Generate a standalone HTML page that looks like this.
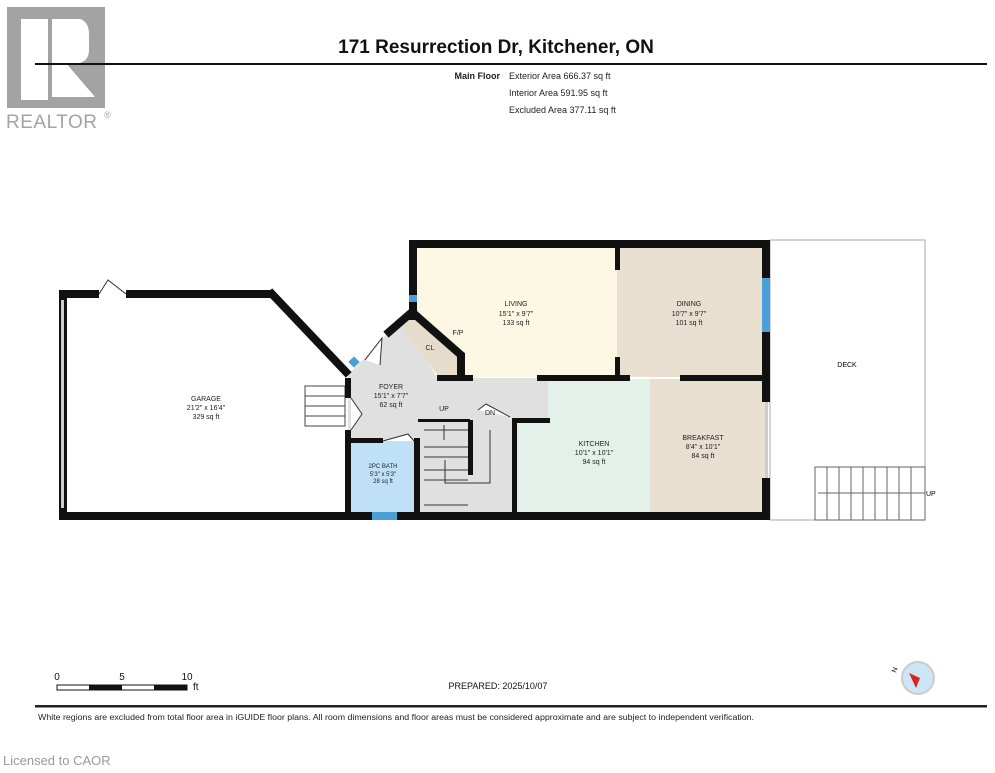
<!DOCTYPE html>
<html><head><meta charset="utf-8"><style>
body{margin:0;background:#fff;width:995px;height:768px;overflow:hidden;font-family:"Liberation Sans",sans-serif}
</style></head><body>
<svg width="995" height="768" viewBox="0 0 995 768" xmlns="http://www.w3.org/2000/svg" font-family="Liberation Sans, sans-serif">
<!-- logo -->
<rect x="7" y="7" width="98" height="101" fill="#a3a3a3"/>
<rect x="21" y="19" width="27" height="81" fill="#fff"/>
<path d="M52 19 H80 Q89 22 89 34 V50 Q89 60 80 63 H66 L95 97 H52 Z" fill="#fff"/>
<text x="6" y="128" font-size="19" fill="#a3a3a3" letter-spacing="0.5">REALTOR</text>
<text x="104" y="118" font-size="9" fill="#a3a3a3">®</text>
<!-- header -->
<text x="496" y="53" font-size="19" font-weight="bold" text-anchor="middle" fill="#111">171 Resurrection Dr, Kitchener, ON</text>
<rect x="35" y="63" width="952" height="2" fill="#111"/>
<text x="500" y="79" font-size="9" font-weight="bold" text-anchor="end" fill="#222">Main Floor</text>
<g font-size="9" fill="#222"><text x="509" y="79">Exterior Area 666.37 sq ft</text><text x="509" y="96">Interior Area 591.95 sq ft</text><text x="509" y="113">Excluded Area 377.11 sq ft</text></g>
<!-- deck -->
<rect x="770" y="240" width="155" height="280" fill="#fff" stroke="#aaa" stroke-width="1"/>
<g stroke="#666" stroke-width="1" fill="none"><rect x="815" y="467" width="110" height="53"/>
<path d="M827 467V520M839 467V520M851 467V520M863 467V520M875 467V520M887 467V520M899 467V520M911 467V520M818 493H925"/></g>
<text x="847" y="367" font-size="7" text-anchor="middle">DECK</text><text x="926" y="496" font-size="7">UP</text>
<!-- room fills -->
<polygon points="63,294 272,294 348,375 345,516 63,516" fill="#fff"/>
<rect x="413" y="244" width="204" height="133" fill="#fdf8e4"/>
<rect x="617" y="244" width="149" height="133" fill="#e8dfd0"/>
<rect x="517" y="379" width="133" height="135" fill="#e3f1ea"/>
<rect x="650" y="379" width="115" height="135" fill="#e8dfd0"/>
<polygon points="348,375 386,335 405,318 437,378 548,378 548,418 512,418 512,514 420,514 420,440 348,440" fill="#e0e0e0"/>
<polygon points="396,320 415,308 464,355 464,378 440,378" fill="#e6dccb"/>
<rect x="348" y="440" width="70" height="74" fill="#bfe0f7"/>
<!-- stairs -->
<g stroke="#333" stroke-width="1" fill="none"><path d="M424 420H468M424 430H468M424 447H468M424 457H468M424 470H468M424 480H468M424 505H468M444 425V440M445 460V483H490V430"/></g>
<rect x="468" y="420" width="5" height="55" fill="#111"/>
<rect x="418" y="419" width="52" height="3" fill="#111"/>
<!-- exterior stairs garage -->
<g stroke="#444" fill="#fff"><rect x="305" y="386" width="40" height="40"/><path d="M305 396H345M305 406H345M305 416H345" /></g>
<!-- walls -->
<g fill="#111">
<rect x="59" y="290" width="8" height="230"/>
<rect x="59" y="290" width="40" height="8"/><rect x="126" y="290" width="148" height="8"/>
<rect x="59" y="512" width="313" height="8"/><rect x="397" y="512" width="373" height="8"/>
<rect x="409" y="240" width="361" height="8"/>
<rect x="409" y="240" width="8" height="55"/><rect x="409" y="302" width="8" height="18"/>
<rect x="762" y="240" width="8" height="38"/><rect x="762" y="332" width="8" height="70"/><rect x="762" y="478" width="8" height="42"/>
<rect x="615" y="248" width="5" height="22"/><rect x="615" y="357" width="5" height="22"/>
<rect x="437" y="375" width="36" height="6"/><rect x="537" y="375" width="93" height="6"/><rect x="680" y="375" width="90" height="6"/>
<rect x="512" y="418" width="5" height="100"/><rect x="512" y="418" width="38" height="5"/>
<rect x="345" y="378" width="6" height="20"/><rect x="345" y="430" width="6" height="90"/>
<rect x="345" y="438" width="38" height="5"/><rect x="414" y="438" width="6" height="80"/>
</g>
<g stroke="#111" stroke-width="8" fill="none" stroke-linecap="square">
<path d="M272 294 L346 372"/><path d="M389 332 L412 312 L461 355 L461 376"/>
</g>
<!-- windows -->
<rect x="409" y="295" width="8" height="7" fill="#4a9fd8"/><rect x="762" y="278" width="8" height="54" fill="#4a9fd8"/>
<rect x="372" y="512" width="25" height="8" fill="#4a9fd8"/>
<rect x="350" y="358" width="8" height="8" fill="#4a9fd8" transform="rotate(-45 354 362)"/>
<rect x="61" y="300" width="3" height="208" fill="#ccc"/><rect x="765" y="402" width="3" height="76" fill="#ccc"/>
<!-- doors -->
<g stroke="#333" stroke-width="1" fill="#fff"><path d="M99 294 L108 280 L126 294"/><path d="M351 398 L362 414 L351 430"/><path d="M383 441 L408 434 L414 441"/><path d="M478 410 L486 404 L510 417"/><path d="M365 360 L382 338 L380 365"/></g>
<!-- labels -->
<g font-size="7" text-anchor="middle" fill="#222">
<text x="516" y="306">LIVING</text><text x="516" y="316">15'1" x 9'7"</text><text x="516" y="325">133 sq ft</text>
<text x="689" y="306">DINING</text><text x="689" y="316">10'7" x 9'7"</text><text x="689" y="325">101 sq ft</text>
<text x="206" y="401">GARAGE</text><text x="206" y="410">21'2" x 16'4"</text><text x="206" y="419">329 sq ft</text>
<text x="391" y="389">FOYER</text><text x="391" y="398">15'1" x 7'7"</text><text x="391" y="407">62 sq ft</text>
<text x="594" y="446">KITCHEN</text><text x="594" y="455">10'1" x 10'1"</text><text x="594" y="464">94 sq ft</text>
<text x="703" y="440">BREAKFAST</text><text x="703" y="449">8'4" x 10'1"</text><text x="703" y="458">84 sq ft</text>
<text x="430" y="350">CL</text><text x="458" y="335">F/P</text><text x="444" y="411">UP</text><text x="490" y="415">DN</text>
<g font-size="6"><text x="383" y="468">2PC BATH</text><text x="383" y="476">5'3" x 5'3"</text><text x="383" y="483">28 sq ft</text></g>
</g>
<!-- scale -->
<g font-size="10" fill="#111"><text x="57" y="680" text-anchor="middle">0</text><text x="122" y="680" text-anchor="middle">5</text><text x="187" y="680" text-anchor="middle">10</text><text x="193" y="690">ft</text></g>
<rect x="57" y="685" width="130" height="5" fill="#fff" stroke="#111" stroke-width="1"/>
<rect x="89" y="685" width="33" height="5" fill="#111"/><rect x="154" y="685" width="33" height="5" fill="#111"/>
<text x="498" y="689" font-size="9" text-anchor="middle" fill="#111">PREPARED: 2025/10/07</text>
<circle cx="918" cy="678" r="16" fill="#cce6f5" stroke="#ccc" stroke-width="2"/>
<polygon points="909,673 920,678 916,688" fill="#d22"/>
<text x="896" y="673" font-size="7" transform="rotate(-70 896 673)">N</text>
<rect x="35" y="705" width="952" height="2.5" fill="#222"/>
<text x="38" y="720" font-size="8" fill="#222" textLength="716" lengthAdjust="spacingAndGlyphs">White regions are excluded from total floor area in iGUIDE floor plans. All room dimensions and floor areas must be considered approximate and are subject to independent verification.</text>
<text x="3" y="765" font-size="13" fill="#999">Licensed to CAOR</text>
</svg>
</body></html>
